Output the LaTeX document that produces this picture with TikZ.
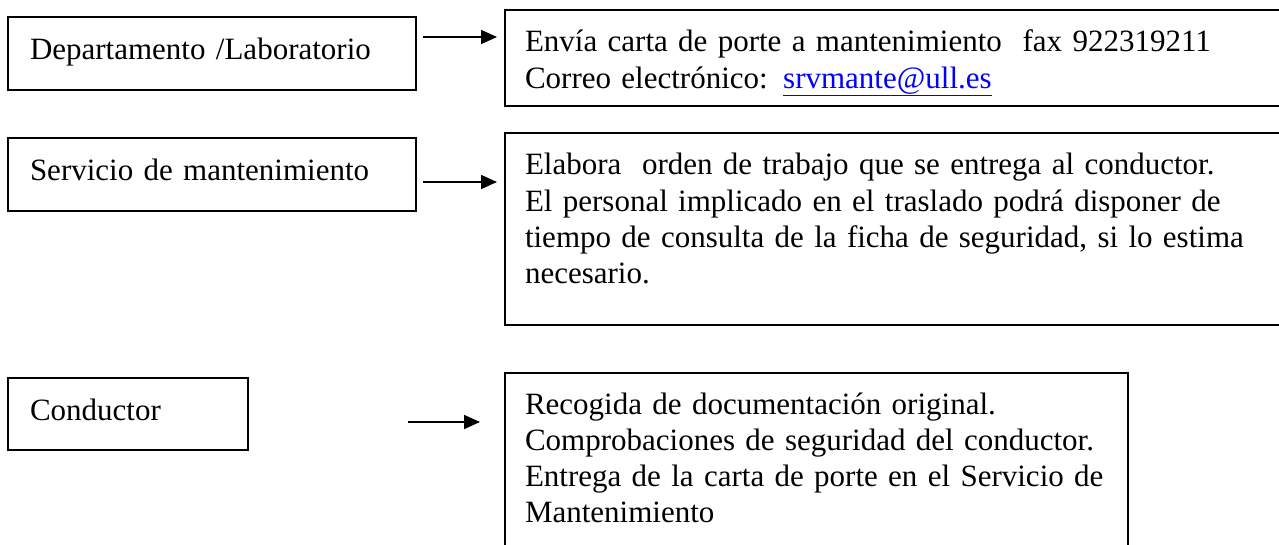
\documentclass[tikz,border=0pt]{standalone}
\usepackage{fontspec}
\setmainfont{Liberation Serif}
\usetikzlibrary{arrows.meta}
\definecolor{linkblue}{RGB}{0,0,255}
\begin{document}
\begin{tikzpicture}[x=1pt,y=-1pt,
  box/.style={draw, line width=1.8pt, inner sep=0pt, outer sep=0pt, anchor=north west},
  txt/.style={anchor=base west, inner sep=0pt, outer sep=0pt, align=left, text width=760pt, font=\fontsize{31}{36.3}\selectfont},
  flow/.style={line width=1.7pt, -{Triangle[length=16pt,width=14pt]}}]
\useasboundingbox (0,0) rectangle (1279,545);
\clip (0,0) rectangle (1279,545);
\fill[white] (0,0) rectangle (1279,545);
% boxes
\node[box, minimum width=408pt, minimum height=73pt] (b1) at (8,17) {};
\node[box, minimum width=800pt, minimum height=96pt] (b2) at (505,10) {};
\node[box, minimum width=408pt, minimum height=73pt] (b3) at (8,138) {};
\node[box, minimum width=800pt, minimum height=192pt] (b4) at (505,133) {};
\node[box, minimum width=240pt, minimum height=72pt] (b5) at (8,378) {};
\node[box, minimum width=623pt, minimum height=300pt] (b6) at (505,373) {};
% texts
\node[txt] (t1) at (30,60) {Departamento /Laboratorio};
\node[txt] (t2) at (525,52) {Envía carta de porte a mantenimiento\ \ fax 922319211\\
Correo electrónico: \textcolor{linkblue}{\underline{srvmante@ull.es}}};
\node[txt] (t3) at (30,181) {Servicio de mantenimiento};
\node[txt] (t4) at (525,175) {Elabora\ \ orden de trabajo que se entrega al conductor.\\
El personal implicado en el traslado podrá disponer de\\
tiempo de consulta de la ficha de seguridad, si lo estima\\
necesario.};
\node[txt] (t5) at (30,420) {Conductor};
\node[txt] (t6) at (525,414) {Recogida de documentación original.\\
Comprobaciones de seguridad del conductor.\\
Entrega de la carta de porte en el Servicio de\\
Mantenimiento};
% arrows
\coordinate (a1s) at (423,37);
\coordinate (a1e) at (497,37);
\coordinate (a2s) at (423,182);
\coordinate (a2e) at (497,182);
\coordinate (a3s) at (408,422);
\coordinate (a3e) at (480,422);
\draw[flow] (a1s) -- (a1e);
\draw[flow] (a2s) -- (a2e);
\draw[flow] (a3s) -- (a3e);
\end{tikzpicture}
\end{document}
